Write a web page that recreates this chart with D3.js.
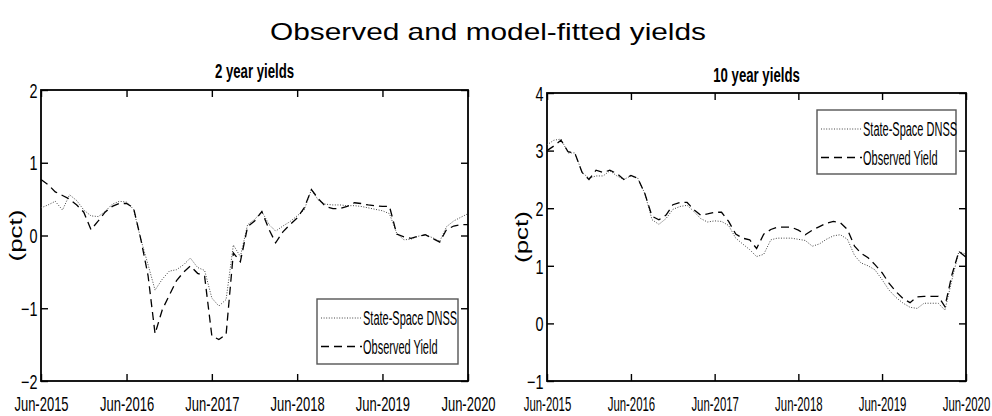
<!DOCTYPE html>
<html>
<head>
<meta charset="utf-8">
<script src="https://cdn.jsdelivr.net/npm/d3@7"></script>
<style>
  body { margin: 0; background: #fff; }
  text { font-family: "Liberation Sans", Arial, sans-serif; fill: #000; }
</style>
</head>
<body>
<div id="chart"></div>
<script>
// monthly observations, Jun-2015 .. Jun-2020
const startMonth = new Date(2015, 5, 1);
const endMonth = new Date(2020, 5, 1);
const months = d3.timeMonth.range(startMonth, d3.timeMonth.offset(endMonth, 1));

const xTickLabels = ["Jun-2015", "Jun-2016", "Jun-2017", "Jun-2018", "Jun-2019", "Jun-2020"];
const xTickDates = [0, 12, 24, 36, 48, 60].map(m => d3.timeMonth.offset(startMonth, m));

const legendLabels = ["State-Space DNSS", "Observed Yield"];

// 2 year yields
const fitted2y = [0.38, 0.42, 0.47, 0.35, 0.56, 0.48, 0.35, 0.27, 0.26, 0.33,
  0.43, 0.47, 0.46, 0.36, -0.05, -0.40, -0.75, -0.60, -0.49, -0.47,
  -0.40, -0.31, -0.44, -0.48, -0.86, -0.97, -0.88, -0.13, -0.29, 0.15,
  0.22, 0.33, 0.15, 0.06, 0.13, 0.19, 0.27, 0.35, 0.63, 0.48,
  0.43, 0.42, 0.42, 0.41, 0.41, 0.40, 0.38, 0.36, 0.34, 0.30,
  0.03, -0.06, -0.05, -0.01, 0.01, -0.03, -0.08, 0.12, 0.20, 0.25, 0.30];
const observed2y = [0.77, 0.70, 0.60, 0.55, 0.50, 0.42, 0.32, 0.08, 0.20, 0.32,
  0.40, 0.44, 0.44, 0.38, -0.05, -0.55, -1.35, -1.02, -0.82, -0.62,
  -0.50, -0.42, -0.52, -0.56, -1.38, -1.43, -1.36, -0.24, -0.36, 0.12,
  0.20, 0.33, 0.08, -0.10, 0.05, 0.15, 0.24, 0.38, 0.63, 0.50,
  0.40, 0.37, 0.37, 0.40, 0.45, 0.44, 0.42, 0.41, 0.40, 0.40,
  0.02, -0.02, -0.04, -0.01, 0.01, -0.04, -0.09, 0.08, 0.13, 0.15, 0.15];

// 10 year yields
const fitted10y = [3.10, 3.18, 3.20, 2.96, 2.96, 2.62, 2.52, 2.56, 2.56, 2.65,
  2.56, 2.50, 2.56, 2.52, 2.25, 1.80, 1.72, 1.82, 1.98, 2.03,
  2.05, 1.95, 1.82, 1.76, 1.78, 1.77, 1.70, 1.48, 1.38, 1.28,
  1.16, 1.20, 1.45, 1.48, 1.48, 1.48, 1.46, 1.44, 1.34, 1.38,
  1.46, 1.52, 1.54, 1.46, 1.18, 1.05, 1.00, 0.93, 0.76, 0.58,
  0.45, 0.35, 0.28, 0.26, 0.35, 0.35, 0.35, 0.23, 0.76, 1.25, 1.20];
const observed10y = [3.00, 3.08, 3.18, 2.98, 2.95, 2.62, 2.50, 2.66, 2.62, 2.66,
  2.60, 2.50, 2.57, 2.52, 2.25, 1.86, 1.80, 1.88, 2.06, 2.10,
  2.10, 1.98, 1.88, 1.90, 1.93, 1.93, 1.77, 1.55, 1.48, 1.45,
  1.30, 1.55, 1.63, 1.67, 1.67, 1.67, 1.62, 1.54, 1.62, 1.68,
  1.74, 1.77, 1.75, 1.63, 1.34, 1.22, 1.14, 1.02, 0.88, 0.70,
  0.55, 0.43, 0.36, 0.46, 0.47, 0.47, 0.47, 0.29, 0.85, 1.25, 1.15];

const yTicks2y = [-2, -1, 0, 1, 2];
const yTicks10y = [-1, 0, 1, 2, 3, 4];

const W = 992, H = 416;
const svg = d3.select("#chart").append("svg")
  .attr("width", W).attr("height", H)
  .attr("viewBox", `0 0 ${W} ${H}`);
svg.append("rect").attr("width", W).attr("height", H).attr("fill", "#fff");

svg.append("text")
  .attr("x", 270).attr("y", 40)
  .attr("font-size", "24px")
  .attr("textLength", 436)
  .attr("lengthAdjust", "spacingAndGlyphs")
  .text("Observed and model-fitted yields");

const panels = [
  { title: "2 year yields", fitted: fitted2y, observed: observed2y, yTicks: yTicks2y,
    left: 41, right: 468, top: 90, bottom: 381, titleY: 78, xLabelScale: 0.65,
    legend: { x: 317, y: 299, w: 141, h: 65 } },
  { title: "10 year yields", fitted: fitted10y, observed: observed10y, yTicks: yTicks10y,
    left: 547, right: 966, top: 93, bottom: 381, titleY: 82, xLabelScale: 0.57,
    legend: { x: 817, y: 110, w: 139, h: 64 } }
];

panels.forEach(function (p) {
  const x = d3.scaleTime().domain([startMonth, endMonth]).range([p.left, p.right]);
  const y = d3.scaleLinear().domain(d3.extent(p.yTicks)).range([p.bottom, p.top]);
  const g = svg.append("g");

  // bottom axis with labels, ticks pointing inward
  const bx = g.append("g")
    .attr("transform", `translate(0,${p.bottom})`)
    .call(d3.axisBottom(x).tickValues(xTickDates)
      .tickFormat((d, i) => xTickLabels[i]).tickSizeInner(-7).tickSizeOuter(0));
  bx.selectAll("text")
    .attr("y", 30).attr("dy", 0)
    .attr("font-size", "20px")
    .attr("transform", `scale(${p.xLabelScale},1)`);

  g.append("g")
    .attr("transform", `translate(0,${p.top})`)
    .call(d3.axisTop(x).tickValues(xTickDates).tickFormat("").tickSizeInner(-7).tickSizeOuter(0));

  const ly = g.append("g")
    .attr("transform", `translate(${p.left},0)`)
    .call(d3.axisLeft(y).tickValues(p.yTicks).tickFormat(d3.format("d"))
      .tickSizeInner(-7).tickSizeOuter(0));
  ly.selectAll("text")
    .attr("x", -5).attr("dy", "0.36em")
    .attr("font-size", "20px")
    .attr("transform", "scale(0.72,1)");

  g.append("g")
    .attr("transform", `translate(${p.right},0)`)
    .call(d3.axisRight(y).tickValues(p.yTicks).tickFormat("").tickSizeInner(-7).tickSizeOuter(0));

  g.selectAll(".domain").remove();
  g.selectAll(".tick line").attr("stroke", "#000").attr("stroke-width", 1.4);
  g.selectAll(".tick text").attr("font-family", "'Liberation Sans', Arial, sans-serif").attr("fill", "#000");

  g.append("rect")
    .attr("x", p.left).attr("y", p.top)
    .attr("width", p.right - p.left).attr("height", p.bottom - p.top)
    .attr("fill", "none").attr("stroke", "#000").attr("stroke-width", 1.8);

  // subplot title
  g.append("text")
    .attr("transform", `translate(${(p.left + p.right) / 2},${p.titleY}) scale(0.66,1)`)
    .attr("text-anchor", "middle")
    .attr("font-size", "20px").attr("font-weight", "bold")
    .text(p.title);

  // y label
  g.append("text")
    .attr("transform", `translate(${p.left - 19},${(p.top + p.bottom) / 2}) scale(0.7,1) rotate(-90)`)
    .attr("text-anchor", "middle")
    .attr("font-size", "26px")
    .text("(pct)");

  const line = d3.line()
    .x((d, i) => x(months[i]))
    .y(d => y(d));

  g.append("path")
    .datum(p.fitted)
    .attr("d", line)
    .attr("fill", "none")
    .attr("stroke", "#444")
    .attr("stroke-width", 1)
    .attr("stroke-dasharray", "1,1.6");

  g.append("path")
    .datum(p.observed)
    .attr("d", line)
    .attr("fill", "none")
    .attr("stroke", "#000")
    .attr("stroke-width", 1.3)
    .attr("stroke-dasharray", "8,5");

  // legend
  const L = p.legend;
  const lg = g.append("g");
  lg.append("rect")
    .attr("x", L.x).attr("y", L.y).attr("width", L.w).attr("height", L.h)
    .attr("fill", "#fff").attr("stroke", "#555").attr("stroke-width", 1.4);
  const styles = [
    { stroke: "#444", width: 1, dash: "1,1.6" },
    { stroke: "#000", width: 1.3, dash: "8,5" }
  ];
  legendLabels.forEach(function (lab, i) {
    const cy = L.y + 19 + i * 28.5;
    lg.append("line")
      .attr("x1", L.x + 4).attr("x2", L.x + 45)
      .attr("y1", cy).attr("y2", cy)
      .attr("stroke", styles[i].stroke)
      .attr("stroke-width", styles[i].width)
      .attr("stroke-dasharray", styles[i].dash);
    lg.append("text")
      .attr("transform", `translate(${L.x + 46},${cy + 7}) scale(0.55,1)`)
      .attr("font-size", "20px")
      .text(lab);
  });
});
</script>
</body>
</html>
